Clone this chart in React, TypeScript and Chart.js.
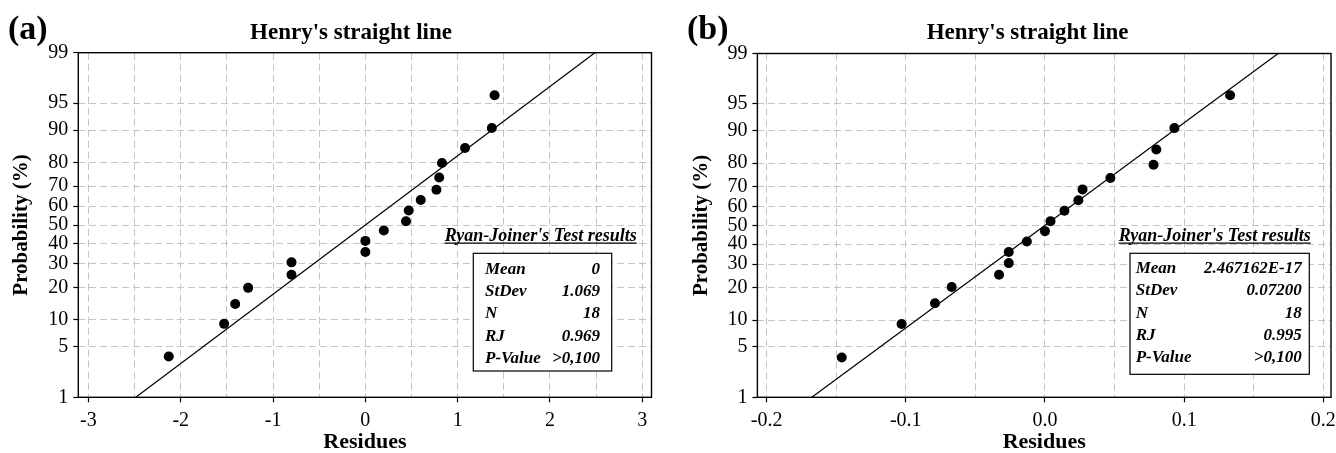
import React, { useEffect, useRef } from 'react';
import { Chart, registerables, LinearScale } from 'chart.js';

Chart.register(...registerables);

const FONT = "'Liberation Serif', 'Times New Roman', serif";

// ---------- data ----------
const residuesA = [-2.13, -1.53, -1.41, -1.27, -0.8, -0.8, 0.0, 0.0, 0.2, 0.44, 0.47, 0.6, 0.77, 0.8, 0.83, 1.08, 1.37, 1.4];
const probabilityA = [3.8, 9.1, 14.3, 19.8, 25.1, 30.7, 35.8, 41.5, 47.0, 52.0, 57.8, 63.2, 68.3, 73.9, 79.9, 85.1, 90.5, 96.0];
const fitResiduesA = [-2.487, 2.487];
const fitProbabilityA = [1, 99];

const residuesB = [-0.146, -0.103, -0.079, -0.067, -0.033, -0.026, -0.026, -0.013, 0.0, 0.004, 0.014, 0.024, 0.027, 0.047, 0.078, 0.08, 0.093, 0.133];
const probabilityB = [3.7, 9.1, 14.6, 20.2, 25.2, 30.5, 35.9, 41.4, 46.9, 52.3, 57.9, 63.3, 68.7, 73.9, 79.4, 84.8, 90.6, 96.1];
const fitResiduesB = [-0.1675, 0.1675];
const fitProbabilityB = [1, 99];

const probabilityTicks = [1, 5, 10, 20, 30, 40, 50, 60, 70, 80, 90, 95, 99];
const residueTicksA = [-3, -2.5, -2, -1.5, -1, -0.5, 0, 0.5, 1, 1.5, 2, 2.5, 3];
const residueTicksB = [-0.2, -0.15, -0.1, -0.05, 0, 0.05, 0.1, 0.15, 0.2];

const statNames = ['Mean', 'StDev', 'N', 'RJ', 'P-Value'];
const statValuesA = ['0', '1.069', '18', '0.969', '>0,100'];
const statValuesB = ['2.467162E-17', '0.07200', '18', '0.995', '>0,100'];

// ---------- normal probability helpers ----------
function probit(p: number): number {
  const a = [-3.969683028665376e1, 2.209460984245205e2, -2.759285104469687e2, 1.38357751867269e2, -3.066479806614716e1, 2.506628277459239];
  const b = [-5.447609879822406e1, 1.615858368580409e2, -1.556989798598866e2, 6.680131188771972e1, -1.328068155288572e1];
  const c = [-7.784894002430293e-3, -3.223964580411365e-1, -2.400758277161838, -2.549732539343734, 4.374664141464968, 2.938163982698783];
  const d = [7.784695709041462e-3, 3.224671290700398e-1, 2.445134137142996, 3.754408661907416];
  const pl = 0.02425;
  if (p < pl) {
    const q = Math.sqrt(-2 * Math.log(p));
    return (((((c[0] * q + c[1]) * q + c[2]) * q + c[3]) * q + c[4]) * q + c[5]) / ((((d[0] * q + d[1]) * q + d[2]) * q + d[3]) * q + 1);
  }
  if (p <= 1 - pl) {
    const q = p - 0.5;
    const r = q * q;
    return ((((((a[0] * r + a[1]) * r + a[2]) * r + a[3]) * r + a[4]) * r + a[5]) * q) / (((((b[0] * r + b[1]) * r + b[2]) * r + b[3]) * r + b[4]) * r + 1);
  }
  const q = Math.sqrt(-2 * Math.log(1 - p));
  return -(((((c[0] * q + c[1]) * q + c[2]) * q + c[3]) * q + c[4]) * q + c[5]) / ((((d[0] * q + d[1]) * q + d[2]) * q + d[3]) * q + 1);
}

function normCdf(z: number): number {
  const t = 1 / (1 + 0.3275911 * Math.abs(z) / Math.SQRT2);
  const y = 1 - (((((1.061405429 * t - 1.453152027) * t + 1.421413741) * t - 0.284496736) * t + 0.254829592) * t) * Math.exp(-(z * z) / 2);
  return z >= 0 ? 0.5 * (1 + y) : 0.5 * (1 - y);
}

// ---------- probability (normal-quantile) scale ----------
class ProbabilityScale extends LinearScale {
  static id = 'probability';
  static defaults = {};
  buildTicks() {
    return probabilityTicks.map((v) => ({ value: v }));
  }
  getPixelForValue(value: number) {
    if (value === null || value === undefined || isNaN(value)) return NaN;
    const zMin = probit(this.min / 100);
    const zMax = probit(this.max / 100);
    return this.getPixelForDecimal((probit(value / 100) - zMin) / (zMax - zMin));
  }
  getValueForPixel(pixel: number) {
    const zMin = probit(this.min / 100);
    const zMax = probit(this.max / 100);
    const z = zMin + this.getDecimalForPixel(pixel) * (zMax - zMin);
    return 100 * normCdf(z);
  }
}
Chart.register(ProbabilityScale as any);

// ---------- panel configuration ----------
type PanelCfg = {
  left: number;
  yAxisWidth: number;
  xAxisHeight: number;
  padTop: number;
  padRight: number;
  yTitlePad: number;
  xMin: number;
  xMax: number;
  xTicks: number[];
  xLabel: (v: number) => string;
  residues: number[];
  probs: number[];
  fitX: number[];
  fitP: number[];
  label: string;
  labelX: number;
  labelY: number;
  titleX: number;
  titleY: number;
  legendRight: number;
  legendY: number;
  box: { l: number; t: number; r: number; b: number };
  rowLabelX: number;
  rowValueX: number;
  rowY0: number;
  rowDy: number;
  values: string[];
};

const panelA: PanelCfg = {
  left: 0,
  yAxisWidth: 78.3,
  xAxisHeight: 55.7,
  padTop: 52.7,
  padRight: 16.5,
  yTitlePad: 11,
  xMin: -3.11,
  xMax: 3.1,
  xTicks: residueTicksA,
  xLabel: (v) => (Number.isInteger(v) ? String(v) : ''),
  residues: residuesA,
  probs: probabilityA,
  fitX: fitResiduesA,
  fitP: fitProbabilityA,
  label: '(a)',
  labelX: 8,
  labelY: 38.5,
  titleX: 351,
  titleY: 38.5,
  legendRight: 636.7,
  legendY: 240.7,
  box: { l: 473.3, t: 253.3, r: 611.7, b: 371 },
  rowLabelX: 485,
  rowValueX: 600,
  rowY0: 269.5,
  rowDy: 22.3,
  values: statValuesA,
};

const isTenth = (v: number) => Math.abs(v * 10 - Math.round(v * 10)) < 1e-9;

const panelB: PanelCfg = {
  left: 668,
  yAxisWidth: 89.4,
  xAxisHeight: 55.7,
  padTop: 53.5,
  padRight: 2,
  yTitlePad: 23.5,
  xMin: -0.2066,
  xMax: 0.2055,
  xTicks: residueTicksB,
  xLabel: (v) => (isTenth(v) ? v.toFixed(1) : ''),
  residues: residuesB,
  probs: probabilityB,
  fitX: fitResiduesB,
  fitP: fitProbabilityB,
  label: '(b)',
  labelX: 19,
  labelY: 39,
  titleX: 359.6,
  titleY: 39,
  legendRight: 642.7,
  legendY: 240.7,
  box: { l: 462, t: 253.3, r: 641.3, b: 374.3 },
  rowLabelX: 467.7,
  rowValueX: 633.7,
  rowY0: 268.5,
  rowDy: 22.4,
  values: statValuesB,
};

function makeDecor(cfg: PanelCfg) {
  return {
    id: 'decor',
    afterDraw(chart: any) {
      const { ctx, chartArea: ca } = chart;
      ctx.save();
      ctx.setLineDash([]);
      // frame
      ctx.strokeStyle = '#000';
      ctx.lineWidth = 1.4;
      ctx.strokeRect(ca.left, ca.top, ca.right - ca.left, ca.bottom - ca.top);
      ctx.fillStyle = '#000';
      // panel letter
      ctx.font = `bold 34px ${FONT}`;
      ctx.textAlign = 'left';
      ctx.textBaseline = 'alphabetic';
      ctx.fillText(cfg.label, cfg.labelX, cfg.labelY);
      // title
      ctx.font = `bold 23px ${FONT}`;
      ctx.textAlign = 'center';
      ctx.fillText("Henry's straight line", cfg.titleX, cfg.titleY);
      // legend heading
      ctx.font = `italic bold 18px ${FONT}`;
      ctx.textAlign = 'right';
      const heading = "Ryan-Joiner's Test results";
      ctx.fillText(heading, cfg.legendRight, cfg.legendY);
      const w = ctx.measureText(heading).width;
      ctx.lineWidth = 1.3;
      ctx.beginPath();
      ctx.moveTo(cfg.legendRight - w, cfg.legendY + 2.5);
      ctx.lineTo(cfg.legendRight, cfg.legendY + 2.5);
      ctx.stroke();
      // stats box
      const bx = cfg.box;
      ctx.fillStyle = '#fff';
      ctx.fillRect(bx.l, bx.t, bx.r - bx.l, bx.b - bx.t);
      ctx.strokeStyle = '#000';
      ctx.lineWidth = 1.2;
      ctx.strokeRect(bx.l, bx.t, bx.r - bx.l, bx.b - bx.t);
      ctx.fillStyle = '#000';
      ctx.font = `italic bold 17px ${FONT}`;
      ctx.textBaseline = 'middle';
      statNames.forEach((name, i) => {
        const y = cfg.rowY0 + i * cfg.rowDy;
        ctx.textAlign = 'left';
        ctx.fillText(name, cfg.rowLabelX, y);
        ctx.textAlign = 'right';
        ctx.fillText(cfg.values[i], cfg.rowValueX, y);
      });
      ctx.restore();
    },
  };
}

function Panel({ cfg }: { cfg: PanelCfg }) {
  const ref = useRef<HTMLCanvasElement>(null);
  useEffect(() => {
    if (!ref.current) return;
    const gridColor = '#c4c4c4';
    const chart = new Chart(ref.current, {
      type: 'scatter',
      data: {
        datasets: [
          {
            label: 'Residues',
            data: cfg.residues.map((x, i) => ({ x, y: cfg.probs[i] })),
            pointRadius: 5,
            pointBackgroundColor: '#000',
            pointBorderWidth: 0,
            showLine: false,
          },
          {
            label: 'Fit',
            data: cfg.fitX.map((x, i) => ({ x, y: cfg.fitP[i] })),
            showLine: true,
            borderColor: '#000',
            borderWidth: 1.2,
            pointRadius: 0,
            tension: 0,
          },
        ],
      },
      options: {
        responsive: false,
        animation: false,
        events: [],
        layout: { padding: { top: cfg.padTop, right: cfg.padRight, left: 0, bottom: 0 } },
        plugins: {
          legend: { display: false },
          tooltip: { enabled: false },
          title: { display: false },
        },
        scales: {
          x: {
            type: 'linear',
            min: cfg.xMin,
            max: cfg.xMax,
            afterBuildTicks: (scale: any) => {
              scale.ticks = cfg.xTicks.map((v) => ({ value: v }));
            },
            afterFit: (scale: any) => {
              scale.height = cfg.xAxisHeight;
              scale.paddingLeft = 0;
              scale.paddingRight = 0;
            },
            ticks: {
              autoSkip: false,
              maxRotation: 0,
              padding: 6.5,
              color: '#000',
              font: { family: FONT, size: 20 },
              callback: (v: any) => cfg.xLabel(Number(v)),
            },
            grid: {
              color: gridColor,
              lineWidth: 1,
              drawTicks: true,
              tickLength: 5,
              tickWidth: 1.2,
              tickColor: (c: any) => (c.tick && cfg.xLabel(c.tick.value) !== '' ? '#000' : 'rgba(0,0,0,0)'),
            },
            border: { display: false, dash: [7, 4] },
            title: {
              display: true,
              text: 'Residues',
              color: '#000',
              font: { family: FONT, size: 22, weight: 'bold', lineHeight: 1 },
              padding: { top: 0, bottom: 0 },
            },
          },
          y: {
            type: 'probability' as any,
            min: 1,
            max: 99,
            afterFit: (scale: any) => {
              scale.width = cfg.yAxisWidth;
              scale.paddingTop = 0;
              scale.paddingBottom = 0;
            },
            ticks: {
              autoSkip: false,
              padding: 5,
              color: '#000',
              font: { family: FONT, size: 20 },
              callback: (v: any) => String(v),
            },
            grid: {
              color: gridColor,
              lineWidth: 1,
              drawTicks: true,
              tickLength: 5,
              tickWidth: 1.2,
              tickColor: '#000',
            },
            border: { display: false, dash: [7, 4] },
            title: {
              display: true,
              text: 'Probability (%)',
              color: '#000',
              font: { family: FONT, size: 21, weight: 'bold', lineHeight: 1 },
              padding: { top: cfg.yTitlePad, bottom: 0 },
            },
          },
        },
      } as any,
      plugins: [makeDecor(cfg)],
    });
    return () => chart.destroy();
  }, [cfg]);
  return (
    <canvas
      ref={ref}
      width={668}
      height={453}
      style={{ position: 'absolute', left: cfg.left, top: 0, width: 668, height: 453, display: 'block' }}
    />
  );
}

export default function App() {
  return (
    <div style={{ position: 'absolute', left: 0, top: 0, width: 1336, height: 453, background: '#fff', overflow: 'hidden' }}>
      <Panel cfg={panelA} />
      <Panel cfg={panelB} />
    </div>
  );
}
